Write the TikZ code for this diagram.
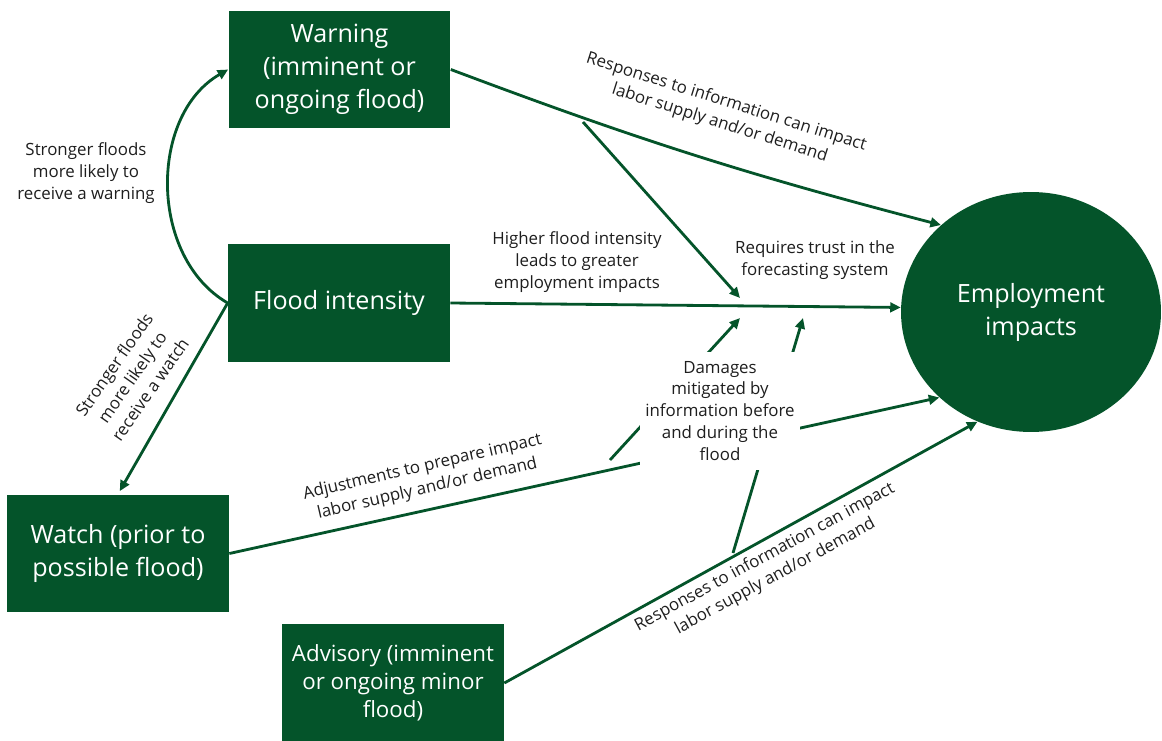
\documentclass[tikz,border=0pt]{standalone}
\usepackage{fontspec}
\setmainfont{Open Sans}
\definecolor{floodgreen}{RGB}{4,84,42}
\definecolor{labelgray}{RGB}{30,30,30}
\usetikzlibrary{arrows.meta,positioning,shapes.geometric}

\begin{document}
\begin{tikzpicture}[x=0.02cm,y=-0.02cm,
      b/.style={fill=floodgreen,text=white,minimum width=4.44cm,minimum height=2.36cm,
                inner sep=0pt,align=center,font=\fontsize{14.3}{18.8}\selectfont},
      ell/.style={ellipse,fill=floodgreen,text=white,minimum width=5.2cm,minimum height=4.8cm,
                inner sep=0pt,align=center,font=\fontsize{14.3}{18.8}\selectfont},
      lab/.style={align=center,text=labelgray,font=\fontsize{9.6}{12.5}\selectfont,inner sep=1pt},
      a/.style={-{Triangle[length=6pt,width=5.5pt]},draw=floodgreen,line width=1.6pt}]
  \useasboundingbox (0,0) rectangle (1162,740);
  \foreach \n/\x/\y/\t in {warn/339.5/69.5/{Warning\\(imminent or\\ongoing flood)},
      flood/339/303/{Flood intensity},watch/118/553.5/{Watch (prior to\\possible flood)}} {
    \node[b] (\n) at (\x,\y) {\t};
  }
  \node[b,font=\fontsize{12.7}{16}\selectfont] (advis) at (393,683) {Advisory (imminent\\or ongoing minor\\flood)};
  \node[ell] (emp) at (1031,312) {Employment\\impacts};

  \coordinate (src) at (583,122);
  \coordinate (tip1) at (740,298);
  \coordinate (dsrc1) at (610,460);
  \coordinate (tip2) at (740,318);
  \coordinate (dsrc2) at (733,553);
  \coordinate (tip3) at (803,318);

  \draw[a] (warn.east) to[bend right=3] (emp.136);
  \draw[a] (flood.east) -- (emp.178);
  \draw[a] (watch.east) -- (emp.223);
  \draw[a] (advis.east) -- (emp.244);
  \draw[a] (flood.west) to[bend left=60] (warn.west);
  \draw[a,shorten >=2pt] (flood.west) -- (watch.north);
  \draw[a] (src) -- (tip1);
  \draw[a] (dsrc1) -- (tip2);
  \draw[a] (dsrc2) -- (tip3);

  \node[lab] (lwarn) at (86,173) {Stronger floods\\more likely to\\receive a warning};
  \node[lab,rotate=55] (lwatch) at (132,377) {Stronger floods\\more likely to\\receive a watch};
  \node[lab,rotate=-17.5] (lresp) at (723,113) {Responses to information can impact\\labor supply and/or demand};
  \node[lab] (lhigh) at (577,262) {Higher flood intensity\\leads to greater\\employment impacts};
  \node[lab] (ltrust) at (815,260) {Requires trust in the\\forecasting system};
  \node[lab,rotate=13] (ladj) at (425,478) {Adjustments to prepare impact\\labor supply and/or demand};
  \node[lab,rotate=28.5] (lresp2) at (770,567) {Responses to information can impact\\labor supply and/or demand};
  \node[lab,fill=white,inner sep=0pt,minimum width=3.2cm,minimum height=2.36cm] (dmg) at (720,411)
    {Damages\\mitigated by\\information before\\and during the\\flood};
\end{tikzpicture}
\end{document}
